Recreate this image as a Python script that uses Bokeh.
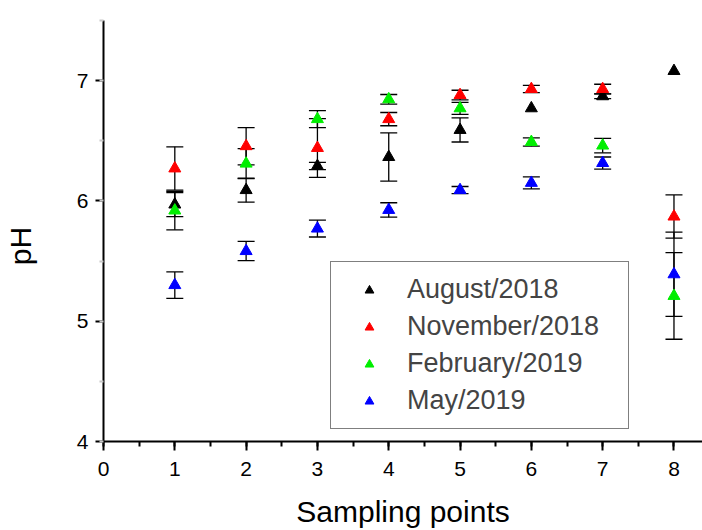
import numpy as np
from bokeh.plotting import figure
from bokeh.models import (ColumnDataSource, Whisker, TeeHead, Range1d, LinearAxis,
                          SingleIntervalTicker, FixedTicker, Legend)
from bokeh.embed import file_html
from bokeh.resources import INLINE

# ---- data ----
points = [1, 2, 3, 4, 5, 6, 7, 8]
series_names = ["August/2018", "November/2018", "February/2019", "May/2019"]
aug = [5.97, 6.09, 6.29, 6.365, 6.59, 6.77, 6.87, 7.08]
aug_err = [0.10, 0.10, 0.03, 0.20, 0.10, 0.0, 0.02, 0.0]
nov = [6.27, 6.455, 6.44, 6.68, 6.88, 6.93, 6.93, 5.87]
nov_err = [0.18, 0.155, 0.245, 0.055, 0.04, 0.03, 0.04, 0.18]
feb = [5.92, 6.31, 6.68, 6.845, 6.77, 6.49, 6.46, 5.21]
feb_err = [0.16, 0.125, 0.07, 0.04, 0.05, 0.035, 0.06, 0.36]
may = [5.30, 5.583, 5.77, 5.925, 6.09, 6.15, 6.315, 5.39]
may_err = [0.11, 0.08, 0.07, 0.06, 0.03, 0.05, 0.05, 0.35]
colors = ["#000000", "#ff0000", "#00ee00", "#0000ff"]

FONT = "Liberation Sans"

p = figure(width=702, height=530, output_backend="svg", toolbar_location=None,
           x_range=Range1d(0, 8.4), y_range=Range1d(4, 7.5),
           min_border_left=103, min_border_right=0, min_border_top=20,
           min_border_bottom=88)
p.outline_line_color = None
p.xgrid.visible = False
p.ygrid.visible = False
p.background_fill_color = "white"
p.border_fill_color = "white"

for ax in (p.xaxis[0], p.yaxis[0]):
    ax.axis_line_width = 2
    ax.axis_line_color = "black"
    ax.major_tick_line_width = 2
    ax.major_tick_line_color = "black"
    ax.minor_tick_line_width = 2
    ax.major_tick_in = 0
    ax.minor_tick_in = 0
    ax.major_label_text_font = FONT
    ax.major_label_text_font_size = "21px"
    ax.major_label_text_color = "black"

p.xaxis.ticker = SingleIntervalTicker(interval=1, num_minor_ticks=2)
p.xaxis.major_tick_out = 9
p.xaxis.minor_tick_out = 5
p.xaxis.minor_tick_line_color = "black"
p.xaxis.major_label_standoff = 11
p.xaxis.axis_label = "Sampling points"
p.xaxis.axis_label_text_font = FONT
p.xaxis.axis_label_text_font_size = "30px"
p.xaxis.axis_label_text_font_style = "normal"
p.xaxis.axis_label_text_color = "black"
p.xaxis.axis_label_standoff = 16

p.yaxis.ticker = SingleIntervalTicker(interval=1, num_minor_ticks=2)
p.yaxis.major_tick_out = 8
p.yaxis.minor_tick_out = 4
p.yaxis.minor_tick_line_color = "#c8c8c8"
p.yaxis.major_label_standoff = 7

# extra left axis that only carries the "pH" title
# (a trailing em space moves the visible letters a little lower, as in the reference)
lab_axis = LinearAxis(ticker=FixedTicker(ticks=[]),
                      axis_line_color=None, major_tick_line_color=None,
                      minor_tick_line_color=None, major_label_standoff=0,
                      major_tick_out=0, minor_tick_out=0,
                      axis_label="pH\u2003", axis_label_text_font=FONT,
                      axis_label_text_font_size="30px",
                      axis_label_text_font_style="normal",
                      axis_label_text_color="black", axis_label_standoff=37)
p.add_layout(lab_axis, "left")

renderers = []
vals_all = [aug, nov, feb, may]
errs_all = [aug_err, nov_err, feb_err, may_err]
for name, vals, errs, col in zip(series_names, vals_all, errs_all, colors):
    xs = [x for x, e in zip(points, errs) if e > 0]
    up = [v + e for v, e in zip(vals, errs) if e > 0]
    lo = [v - e for v, e in zip(vals, errs) if e > 0]
    wsrc = ColumnDataSource(dict(x=xs, upper=up, lower=lo))
    w = Whisker(source=wsrc, base="x", upper="upper", lower="lower",
                dimension="height", line_color="black", line_width=1.3,
                upper_head=TeeHead(size=17, line_color="black", line_width=1.3),
                lower_head=TeeHead(size=17, line_color="black", line_width=1.3))
    p.add_layout(w)

for name, vals, col in zip(series_names, vals_all, colors):
    src = ColumnDataSource(dict(x=points, y=vals))
    r = p.scatter("x", "y", source=src, marker="triangle", size=12,
                  fill_color=col, line_color=col, line_width=1)
    renderers.append((name, [r]))

legend = Legend(items=renderers, location=(227, 12))
legend.label_text_font = FONT
legend.label_text_font_size = "27px"
legend.glyph_width = 52
legend.glyph_height = 22
legend.label_height = 22
legend.label_width = 209
legend.label_standoff = 12
legend.spacing = 6
legend.padding = 12
legend.margin = 0
legend.border_line_color = "black"
legend.border_line_width = 1.3
legend.background_fill_color = "white"
legend.background_fill_alpha = 1
p.add_layout(legend, "center")

open("out.html", "w").write(file_html(p, INLINE))
